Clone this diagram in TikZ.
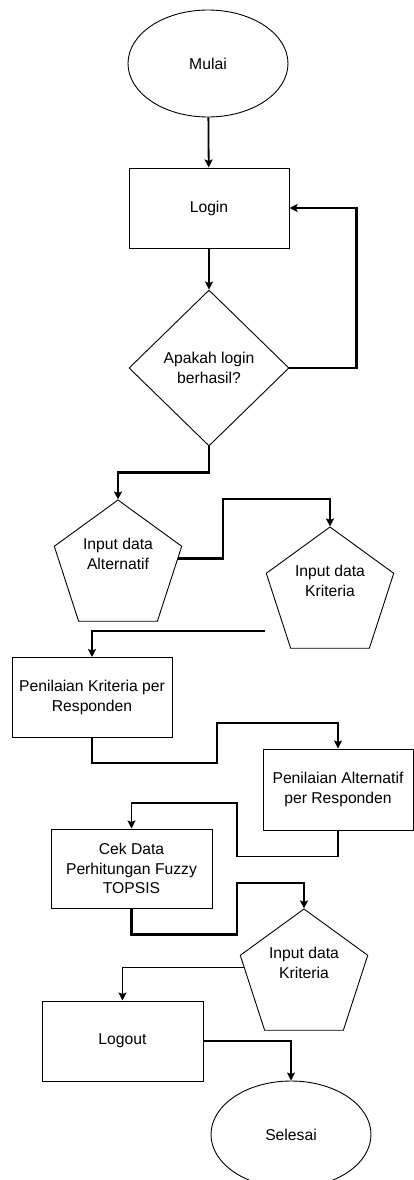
\documentclass[tikz,border=0pt]{standalone}
\usepackage{fontspec}
\setmainfont{Liberation Sans}
\usetikzlibrary{shapes.geometric,arrows.meta}

\tikzset{
  txt/.style={font=\fontsize{15.7}{19.5}\selectfont, align=center},
  term/.style={txt, draw, line width=0.9pt, ellipse, inner sep=0pt, minimum width=160pt, minimum height=107pt},
  proc/.style={txt, draw, line width=1pt, rectangle, inner sep=0pt, minimum width=160pt, minimum height=80pt},
  dec/.style={txt, draw, line width=0.9pt, diamond, aspect=1.03, inner sep=0pt, minimum width=160pt, minimum height=156pt},
  inp/.style={draw, line width=0.9pt, regular polygon, regular polygon sides=5, inner sep=0pt, minimum size=134pt},
  inptxt/.style={txt, yshift=13pt},
  flow/.style={line width=1.8pt, -{Stealth[length=8pt,width=8pt,inset=1.5pt]}},
  flowb/.style={line width=2.6pt, -{Stealth[length=8pt,width=8pt,inset=1.5pt]}}
}

\begin{document}
\begin{tikzpicture}[x=1pt, y=-1pt]
  \useasboundingbox (0,0) rectangle (414,1180);
  \node[term] (mulai) at (208,63.5) {Mulai};
  \node[proc] (login) at (209,208) {Login};
  \node[dec] (cek) at (209,368) {Apakah login\\berhasil?};
  \node[inp, label={[inptxt]center:{Input data\\Alternatif}}] (alt) at (118,567) {};
  \node[inp, label={[inptxt]center:{Input data\\Kriteria}}] (kri) at (330,594) {};
  \node[proc] (pk) at (92,697.5) {Penilaian Kriteria per\\Responden};
  \node[proc, minimum width=150pt, minimum height=81pt] (pa) at (338,789.5) {Penilaian Alternatif\\per Responden};
  \node[proc, minimum width=161pt, minimum height=79pt] (cd) at (131.5,868.5) {Cek Data\\Perhitungan Fuzzy\\TOPSIS};
  \node[inp, label={[inptxt]center:{Input data\\Kriteria}}] (kri2) at (304,976) {};
  \node[proc, minimum width=161pt] (logout) at (122.5,1041) {Logout};
  \node[term] (selesai) at (291,1134.5) {Selesai};
  \coordinate (krout) at (265,631);

  \draw[flow] (mulai) -- (login);
  \draw[flow] (login) -- (cek);
  \draw[flowb] (cek.east) -- ++(67,0) |- (login.east);
  \draw[flowb] (cek.south) -- ++(0,26) -| (alt.north);
  \draw[flowb] (alt.8) -| (223,499) -| (kri.north);
  \draw[flowb] (krout) -| (pk.north);
  \draw[flowb] (pk.south) -- ++(0,25) -| (217,723) -| (pa.north);
  \draw[flow] (pa.south) -- ++(0,26) -| (237,803) -| (cd.north);
  \draw[flowb] (cd.south) -- ++(0,26) -| (237,883) -| (kri2.north);
  \draw[flow] (kri2.172) -| (logout.north);
  \draw[flowb] (logout.east) -| (selesai.north);
\end{tikzpicture}
\end{document}
